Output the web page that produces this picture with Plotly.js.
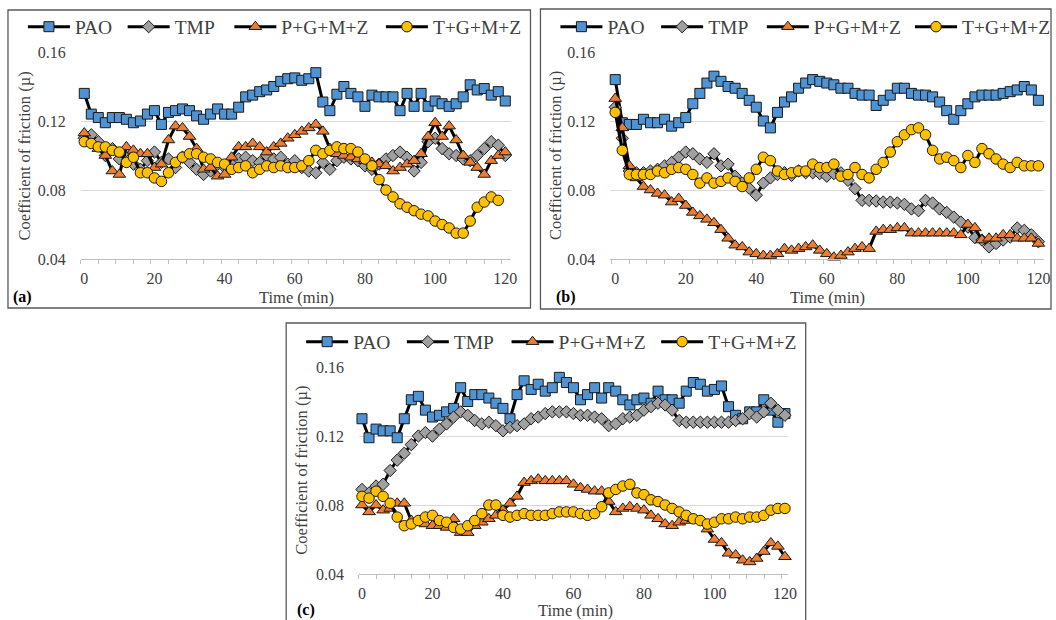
<!DOCTYPE html>
<html><head><meta charset="utf-8">
<script src="https://cdn.plot.ly/plotly-3.0.1.min.js"></script>
<style>html,body{margin:0;padding:0;background:#fff;}#chart{width:1056px;height:620px;}</style>
</head><body><div id="chart"></div>
<script>
const seriesNames = ['PAO', 'TMP', 'P+G+M+Z', 'T+G+M+Z'];
const time = [0,2,4,6,8,10,12,14,16,18,20,22,24,26,28,30,32,34,36,38,40,42,44,46,48,50,52,54,56,58,60,62,64,66,68,70,72,74,76,78,80,82,84,86,88,90,92,94,96,98,100,102,104,106,108,110,112,114,116,118,120];
const xTickLabels = [0, 20, 40, 60, 80, 100, 120];
const yTickLabels = [0.04, 0.08, 0.12, 0.16];

// Panel (a)
const paoA = [.136,.124,.122,.119,.122,.122,.121,.119,.120,.124,.126,.118,.125,.126,.127,.126,.123,.121,.124,.127,.124,.124,.128,.134,.135,.137,.138,.140,.143,.1445,.145,.1436,.1445,.148,.131,.126,.1355,.140,.136,.134,.1285,.135,.134,.134,.134,.126,.136,.1285,.136,.1285,.1316,.130,.1285,.130,.134,.141,.138,.1388,.135,.137,.1316];
const tmpA = [.110,.112,.108,.100,.104,.098,.103,.095,.092,.097,.102,.096,.098,.093,.099,.096,.092,.089,.091,.095,.093,.096,.098,.099,.097,.096,.100,.098,.099,.095,.097,.093,.091,.090,.096,.092,.097,.099,.098,.097,.094,.092,.095,.098,.100,.102,.099,.091,.096,.108,.110,.104,.101,.100,.098,.097,.100,.104,.108,.106,.100];
const pgmzA = [.113,.107,.104,.100,.091,.089,.105,.103,.101,.101,.093,.095,.109,.117,.116,.111,.104,.092,.093,.088,.089,.099,.105,.105,.107,.105,.102,.105,.107,.110,.112,.114,.116,.118,.114,.104,.101,.100,.099,.098,.097,.096,.095,.094,.091,.093,.095,.097,.101,.111,.119,.111,.117,.109,.100,.096,.093,.089,.097,.100,.102];
const tgmzA = [.108,.107,.105,.105,.103,.102,.096,.099,.090,.090,.087,.085,.090,.096,.099,.101,.101,.099,.098,.096,.095,.092,.093,.094,.090,.092,.094,.093,.094,.093,.093,.094,.097,.103,.101,.103,.105,.104,.104,.102,.098,.094,.086,.080,.076,.072,.070,.068,.066,.065,.062,.060,.058,.055,.055,.062,.070,.073,.076,.074];

// Panel (b)
const paoB = [.144,.119,.118,.118,.121,.119,.119,.121,.117,.119,.122,.130,.136,.142,.146,.143,.140,.139,.136,.132,.128,.120,.116,.125,.131,.134,.139,.142,.144,.143,.142,.141,.139,.139,.136,.135,.135,.129,.132,.135,.139,.139,.136,.135,.135,.134,.131,.126,.121,.126,.130,.134,.135,.135,.135,.136,.137,.138,.140,.138,.132];
const tmpB = [.128,.110,.091,.090,.090,.091,.092,.094,.096,.099,.102,.101,.098,.096,.101,.094,.095,.088,.084,.081,.077,.084,.087,.089,.090,.0885,.091,.090,.090,.0895,.088,.0895,.090,.0856,.0808,.074,.074,.0736,.073,.073,.0725,.0717,.069,.068,.074,.0725,.069,.067,.0643,.0614,.0585,.0524,.051,.047,.049,.051,.0527,.058,.0566,.054,.050];
const pgmzB = [.133,.116,.094,.087,.082,.080,.078,.077,.073,.075,.071,.067,.065,.063,.061,.057,.052,.048,.047,.044,.043,.042,.042,.043,.046,.045,.046,.047,.048,.045,.043,.041,.042,.044,.046,.047,.046,.056,.057,.057,.058,.058,.055,.055,.055,.055,.055,.055,.055,.054,.060,.058,.051,.052,.052,.054,.054,.052,.052,.052,.049];
const tgmzB = [.125,.103,.089,.089,.089,.089,.091,.090,.092,.093,.092,.089,.084,.087,.084,.085,.087,.085,.082,.087,.092,.099,.097,.091,.089,.090,.091,.091,.095,.093,.093,.095,.088,.089,.093,.089,.087,.092,.096,.102,.108,.112,.115,.116,.112,.103,.098,.099,.097,.093,.100,.096,.104,.101,.098,.095,.093,.096,.094,.094,.094];

// Panel (c)
const paoC = [.130,.119,.124,.123,.123,.119,.130,.141,.143,.135,.131,.132,.134,.136,.148,.140,.144,.144,.142,.139,.136,.130,.144,.152,.147,.150,.146,.148,.154,.151,.148,.141,.144,.148,.142,.148,.146,.141,.138,.141,.142,.139,.146,.141,.141,.139,.146,.151,.150,.146,.147,.149,.137,.132,.130,.134,.134,.141,.135,.128,.133];
const tmpC = [.089,.087,.091,.092,.100,.106,.110,.115,.120,.122,.120,.124,.127,.131,.134,.132,.129,.127,.128,.126,.123,.125,.126,.127,.130,.131,.133,.134,.134,.134,.133,.132,.132,.131,.130,.126,.127,.130,.131,.132,.135,.137,.139,.138,.135,.129,.128,.128,.128,.128,.128,.128,.128,.129,.130,.133,.131,.134,.139,.135,.132];
const pgmzC = [.080,.076,.080,.077,.078,.081,.081,.071,.070,.069,.068,.068,.067,.072,.064,.064,.068,.070,.072,.074,.077,.081,.085,.093,.094,.095,.094,.094,.094,.094,.092,.090,.089,.088,.088,.082,.076,.078,.079,.078,.077,.074,.072,.069,.068,.070,.071,.072,.071,.066,.060,.058,.052,.051,.048,.047,.049,.053,.058,.056,.050];
const tgmzC = [.085,.084,.088,.085,.081,.073,.068,.069,.071,.073,.074,.071,.070,.067,.066,.068,.071,.075,.080,.080,.074,.073,.074,.075,.074,.074,.074,.075,.076,.076,.076,.075,.074,.075,.079,.087,.089,.091,.092,.087,.086,.083,.082,.080,.078,.076,.074,.072,.071,.069,.070,.072,.072,.073,.072,.073,.073,.074,.077,.078,.078];

const W = 1056, H = 620;
const px = v => v / W, py = v => 1 - v / H;
const FONT = 'Liberation Serif, Times New Roman, serif';
const TXT = '#404040';

const styles = [
  {symbol: 'square', size: 10, color: '#4F93D2'},
  {symbol: 'diamond', size: 9.5, color: '#A0A0A0'},
  {symbol: 'triangle-up', size: 11, color: '#ED7D31'},
  {symbol: 'circle', size: 10.5, color: '#FFC000'}
];

// legend entry left edges (px) and row centre (px)
const panels = [
  {xa: 'x', ya: 'y', data: [paoA, tmpA, pgmzA, tgmzA], legX: [23, 123, 230, 382], legY: 27},
  {xa: 'x2', ya: 'y2', data: [paoB, tmpB, pgmzB, tgmzB], legX: [557, 658, 764, 913], legY: 27},
  {xa: 'x3', ya: 'y3', data: [paoC, tmpC, pgmzC, tgmzC], legX: [302, 403, 508, 658], legY: 342}
];

const traces = [];
const layout = {
  width: W, height: H, margin: {l: 0, r: 0, t: 0, b: 0},
  paper_bgcolor: '#fff', plot_bgcolor: '#fff',
  font: {family: FONT, color: TXT},
  showlegend: true, shapes: [], annotations: []
};

let legIdx = 0;
panels.forEach((p) => {
  p.data.forEach((vals, si) => {
    legIdx++;
    const lid = legIdx === 1 ? 'legend' : 'legend' + legIdx;
    const st = styles[si];
    traces.push({
      type: 'scatter', mode: 'lines+markers', name: seriesNames[si],
      x: time.slice(0, vals.length), y: vals,
      xaxis: p.xa, yaxis: p.ya, legend: lid,
      line: {color: '#000', width: 3},
      marker: {symbol: st.symbol, size: st.size, color: st.color, line: {color: '#1a1a1a', width: 1}},
      cliponaxis: false, hoverinfo: 'skip'
    });
    layout[lid] = {
      x: px(p.legX[si]), y: py(p.legY), xanchor: 'left', yanchor: 'middle',
      orientation: 'h', bgcolor: 'rgba(0,0,0,0)', borderwidth: 0,
      itemwidth: 42, font: {family: FONT, size: 19.5, color: TXT}
    };
  });
});

function xAxis(domain, range, anchor, tick0) {
  return {
    domain: domain, range: range, anchor: anchor,
    tickmode: 'array', tickvals: xTickLabels, ticktext: xTickLabels.map(String),
    ticks: '', showgrid: false, zeroline: false,
    showline: true, linecolor: '#BFBFBF', linewidth: 1,
    tickfont: {family: FONT, size: 16, color: TXT}, ticklabelstandoff: 5,
    minor: {ticks: 'outside', ticklen: 4, tickcolor: '#BFBFBF', tick0: tick0, dtick: 5, showgrid: false}
  };
}
function yAxis(domain, anchor) {
  return {
    domain: domain, range: [0.04, 0.16], anchor: anchor,
    tickmode: 'array', tickvals: yTickLabels, ticktext: yTickLabels.map(v => v.toFixed(2)),
    ticks: '', showgrid: true, gridcolor: '#D9D9D9', gridwidth: 1,
    zeroline: false, showline: false,
    tickfont: {family: FONT, size: 16, color: TXT}, ticklabelstandoff: 14
  };
}

layout.xaxis = xAxis([px(81), px(512)], [-1.0, 121.5], 'y', -1);
layout.yaxis = yAxis([py(259), py(52)], 'x');
layout.xaxis2 = xAxis([px(612), px(1047)], [-1.41, 121.6], 'y2', -1);
layout.yaxis2 = yAxis([py(259), py(52)], 'x2');
layout.xaxis3 = xAxis([px(360), px(790)], [-0.85, 120.8], 'y3', -0.85);
layout.yaxis3 = yAxis([py(574), py(367)], 'x3');

// panel frames
[[8, 10, 532, 308], [542, 9, 1054, 309], [287, 323, 808, 625]].forEach(b => {
  layout.shapes.push({type: 'rect', xref: 'paper', yref: 'paper',
    x0: px(b[0]), x1: px(b[2]), y0: py(b[3]), y1: py(b[1]),
    line: {color: '#595959', width: 1.3}, fillcolor: 'rgba(0,0,0,0)', layer: 'below'});
});

function ann(text, x, y, opts) {
  layout.annotations.push(Object.assign({
    text: text, xref: 'paper', yref: 'paper', x: px(x), y: py(y),
    xanchor: 'center', yanchor: 'middle', showarrow: false,
    font: {family: FONT, size: 16.5, color: TXT}
  }, opts || {}));
}
ann('Coefficient of friction (µ)', 25, 155.5, {textangle: -90});
ann('Coefficient of friction (µ)', 557, 155.5, {textangle: -90});
ann('Coefficient of friction (µ)', 302, 470.5, {textangle: -90});
ann('Time (min)', 297, 297);
ann('Time (min)', 830, 297);
ann('Time (min)', 577, 610);
ann('<b>(a)</b>', 23, 297, {font: {family: FONT, size: 16, color: '#000'}});
ann('<b>(b)</b>', 568, 297, {font: {family: FONT, size: 16, color: '#000'}});
ann('<b>(c)</b>', 307, 610, {font: {family: FONT, size: 16, color: '#000'}});

Plotly.newPlot('chart', traces, layout, {staticPlot: true, displayModeBar: false});
</script>
</body></html>
